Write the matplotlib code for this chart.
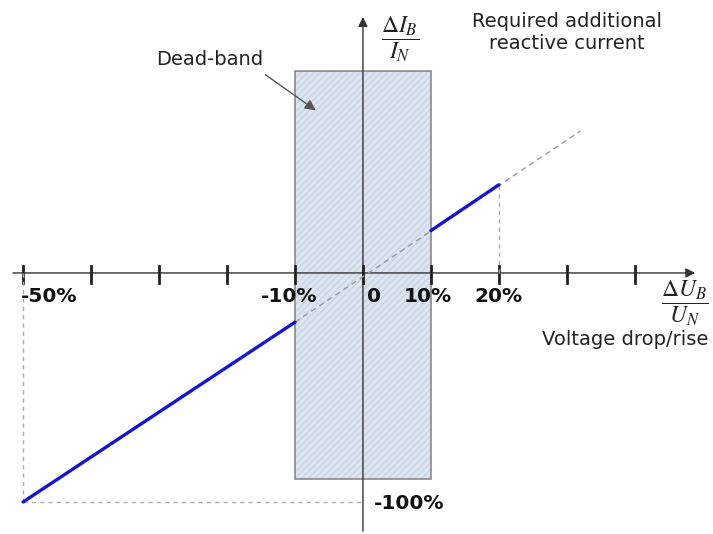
import matplotlib.pyplot as plt
from matplotlib.patches import Rectangle

plt.rcParams['mathtext.fontset'] = 'stix'

# data (percent)
tick_x = [-50, -40, -30, -20, -10, 0, 10, 20, 30, 40]
tick_labels = {-50: "-50%", -10: "-10%", 0: "0", 10: "10%", 20: "20%"}
line_low_x = [-50, -10]
line_low_y = [-100, -21.5]
line_high_x = [10, 20]
line_high_y = [18.5, 38.5]
ref_x = [-10, 32]
ref_y = [-21.5, 62]
band_x = [-10, 10]
band_y = [-90, 88]

fig = plt.figure(figsize=(7.13, 5.34), dpi=100)
ax = fig.add_axes([0, 0, 1, 1])
ax.set_xlim(-53.4, 51.5)
ax.set_ylim(-114, 119.2)
ax.axis('off')

# dead-band box
ax.add_patch(Rectangle((band_x[0], band_y[0]), band_x[1] - band_x[0], band_y[1] - band_y[0],
                       facecolor='#dde5f1', edgecolor='#c8d2e2', hatch='/////', linewidth=0, zorder=1))
ax.add_patch(Rectangle((band_x[0], band_y[0]), band_x[1] - band_x[0], band_y[1] - band_y[0],
                       facecolor='none', edgecolor='#808080', linewidth=1.1, zorder=2))

# axes with arrows
ax.annotate('', xy=(49.3, 0), xytext=(-51.9, 0),
            arrowprops=dict(arrowstyle='-|>', color='#333333', lw=1, mutation_scale=14), zorder=3)
ax.annotate('', xy=(0, 113), xytext=(0, -114),
            arrowprops=dict(arrowstyle='-|>', color='#333333', lw=1, mutation_scale=14), zorder=3)

for t in tick_x:
    ax.plot([t, t], [-4.6, 3.0], color='#222222', lw=2, zorder=3)

# dashed helpers
ax.plot(ref_x, ref_y, color='#999999', lw=1, ls=(0, (4, 3)), zorder=3)
ax.plot([-50, -50], [0, -100], color='#aaaaaa', lw=1, ls=(0, (3, 3)), zorder=3)
ax.plot([-50, 0], [-100, -100], color='#aaaaaa', lw=1, ls=(0, (3, 3)), zorder=3)
ax.plot([20, 20], [0, line_high_y[1]], color='#aaaaaa', lw=1, ls=(0, (3, 3)), zorder=3)

# characteristic
ax.plot(line_low_x, line_low_y, color='#1414d2', lw=2.4, solid_capstyle='round', zorder=4)
ax.plot(line_high_x, line_high_y, color='#1414d2', lw=2.4, solid_capstyle='round', zorder=4)

# tick labels
bold = dict(fontsize=14.5, fontweight='bold', va='center', color='#111111')
ax.text(-50.3, -10.5, tick_labels[-50], ha='left', **bold)
ax.text(-10.9, -10.5, tick_labels[-10], ha='center', **bold)
ax.text(1.6, -10.5, tick_labels[0], ha='center', **bold)
ax.text(9.6, -10.5, tick_labels[10], ha='center', **bold)
ax.text(20.0, -10.5, tick_labels[20], ha='center', **bold)
ax.text(1.6, -100.5, "-100%", ha='left', **bold)

# axis titles
ax.text(5.5, 102, r'$\dfrac{\Delta I_B}{I_N}$', fontsize=17, ha='center', va='center', color='#222222')
ax.text(47.3, -13, r'$\dfrac{\Delta U_B}{U_N}$', fontsize=17, ha='center', va='center', color='#222222')
ax.text(50.8, -29, "Voltage drop/rise", fontsize=14, ha='right', va='center', color='#222222')
ax.text(30.0, 105, "Required additional\nreactive current", fontsize=14, ha='center', va='center',
        color='#222222', linespacing=1.15)

ax.text(-22.5, 93, "Dead-band", fontsize=14, color='#222222', ha='center', va='center')
ax.annotate('', xy=(-6.6, 70.3), xytext=(-14.7, 87.3),
            arrowprops=dict(arrowstyle='-|>', color='#555555', lw=1, mutation_scale=16,
                            facecolor='black'), zorder=5)

fig.savefig('out.png', dpi=100)
